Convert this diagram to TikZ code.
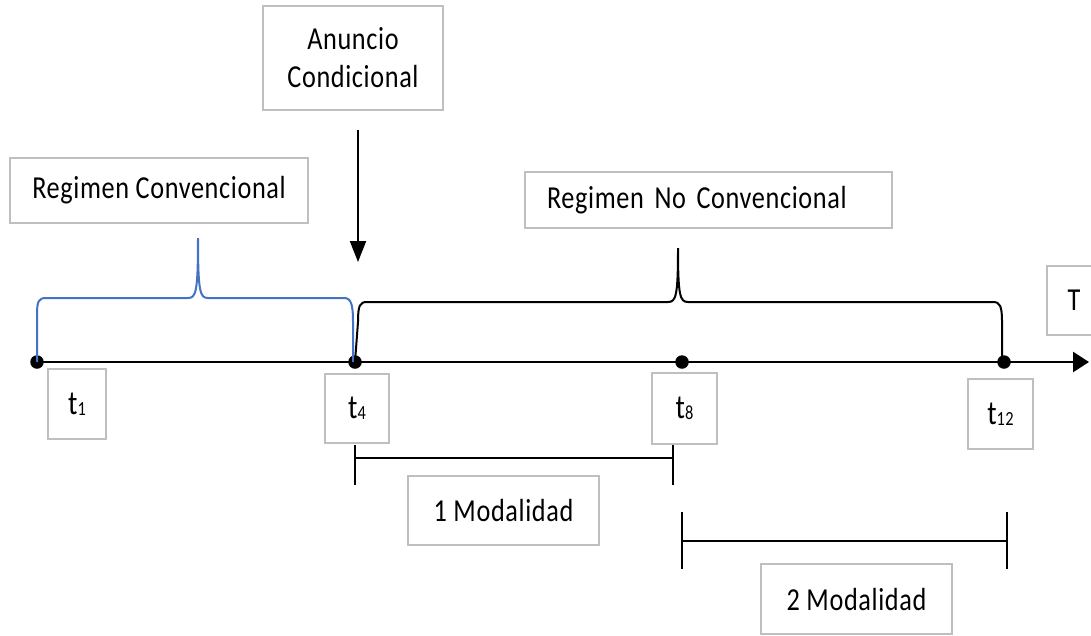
\documentclass[tikz,border=0pt]{standalone}
\usepackage{fontspec}
\setmainfont{Carlito}[FakeStretch=0.82,LetterSpace=2]
\usetikzlibrary{arrows.meta}
\definecolor{boxgray}{HTML}{BFBFBF}
\definecolor{braceblue}{HTML}{4472C4}
\newcommand\tsub[1]{{\fontsize{34}{34}\selectfont t}\raisebox{-1pt}{\fontsize{20}{20}\selectfont #1}}
\begin{document}
\begin{tikzpicture}[x=1pt,y=-1pt,
  lbl/.style={draw=boxgray, line width=1.6pt, inner sep=0pt, align=center,
              font=\fontsize{32}{38}\selectfont},
  tlbl/.style={lbl, minimum width=62pt, minimum height=70pt},
  dot/.style={circle, fill=black, inner sep=0pt, minimum size=13.5pt},
  axis/.style={line width=2.6pt, -{Triangle[length=16pt,width=20pt]}},
  brc/.style={line width=2pt},
  span/.style={line width=2.4pt},
  every node/.style={text=black}]
\useasboundingbox (0,0) rectangle (1091,635);

% text boxes
\node[lbl, minimum width=180pt, minimum height=104pt] (anuncio) at (353,58) {Anuncio\\Condicional};
\node[lbl, minimum width=298pt, minimum height=65pt] (regconv) at (159,190.5) {Regimen Convencional};
\node[lbl, text width=323pt, inner xsep=22pt, align=left, minimum height=56pt] (regnoconv) at (708.5,200) {\raisebox{-6pt}{Regimen No Convencional}};
\node[lbl, minimum width=54pt, minimum height=69pt] (T) at (1074,300.5) {T};

% time points on the axis
\node[dot] (d1) at (37,362) {};
\node[dot] (d4) at (355,362) {};
\node[dot] (d8) at (682,362) {};
\node[dot] (d12) at (1004,362) {};
\coordinate (axend) at (1089,362);
\draw[axis] (d1.center) -- (axend);

% labels under the time points
\node[tlbl, minimum width=58pt] (t1) at (77,404) {\tsub{1}};
\node[tlbl, minimum width=64pt, minimum height=69pt] (t4) at (357,408.5) {\tsub{4}};
\node[tlbl, minimum width=65pt, minimum height=71pt] (t8) at (684.5,408.5) {\tsub{8}};
\node[tlbl, minimum width=65pt, minimum height=70pt] (t12) at (1000.5,414) {\tsub{12}};

% announcement arrow
\coordinate (a0) at (358,130);
\coordinate (a1) at (358,262);
\draw[line width=2pt, -{Triangle[length=21pt,width=16pt]}] (a0) -- (a1);

% conventional regime brace
\draw[brc, braceblue] (d1.center) -- (37,314)
  .. controls (37,301) and (39,298) .. (46,298) -- (188,298)
  .. controls (196,298) and (198,292) .. (198,238)
  .. controls (198,292) and (200,298) .. (208,298) -- (344,298)
  .. controls (351,298) and (353,304) .. (353,322) -- (353,362);

% non-conventional regime brace
\draw[brc] (d4.center) -- (358,322)
  .. controls (358,305) and (360,302) .. (367,302) -- (668,302)
  .. controls (676,302) and (678,296) .. (678,248)
  .. controls (678,296) and (680,302) .. (688,302) -- (993,302)
  .. controls (1000,302) and (1002,306) .. (1002,322) -- (1002,362);

% first modality span
\coordinate (m1a) at (355,445);
\coordinate (m1b) at (355,485);
\coordinate (m1c) at (673,445);
\coordinate (m1d) at (673,485);
\draw[span] (m1a) -- (m1b);
\draw[span] (m1c) -- (m1d);
\draw[span] (m1a |- 0,458) -- (m1c |- 0,458);
\node[lbl, minimum width=191pt, minimum height=69pt] (mod1) at (503.5,510.5) {1 Modalidad};

% second modality span
\coordinate (m2a) at (682,512);
\coordinate (m2b) at (682,569);
\coordinate (m2c) at (1007,512);
\coordinate (m2d) at (1007,569);
\draw[span] (m2a) -- (m2b);
\draw[span] (m2c) -- (m2d);
\draw[span] (m2a |- 0,541) -- (m2c |- 0,541);
\node[lbl, minimum width=191pt, minimum height=70pt] (mod2) at (856.5,599) {2 Modalidad};
\end{tikzpicture}
\end{document}
